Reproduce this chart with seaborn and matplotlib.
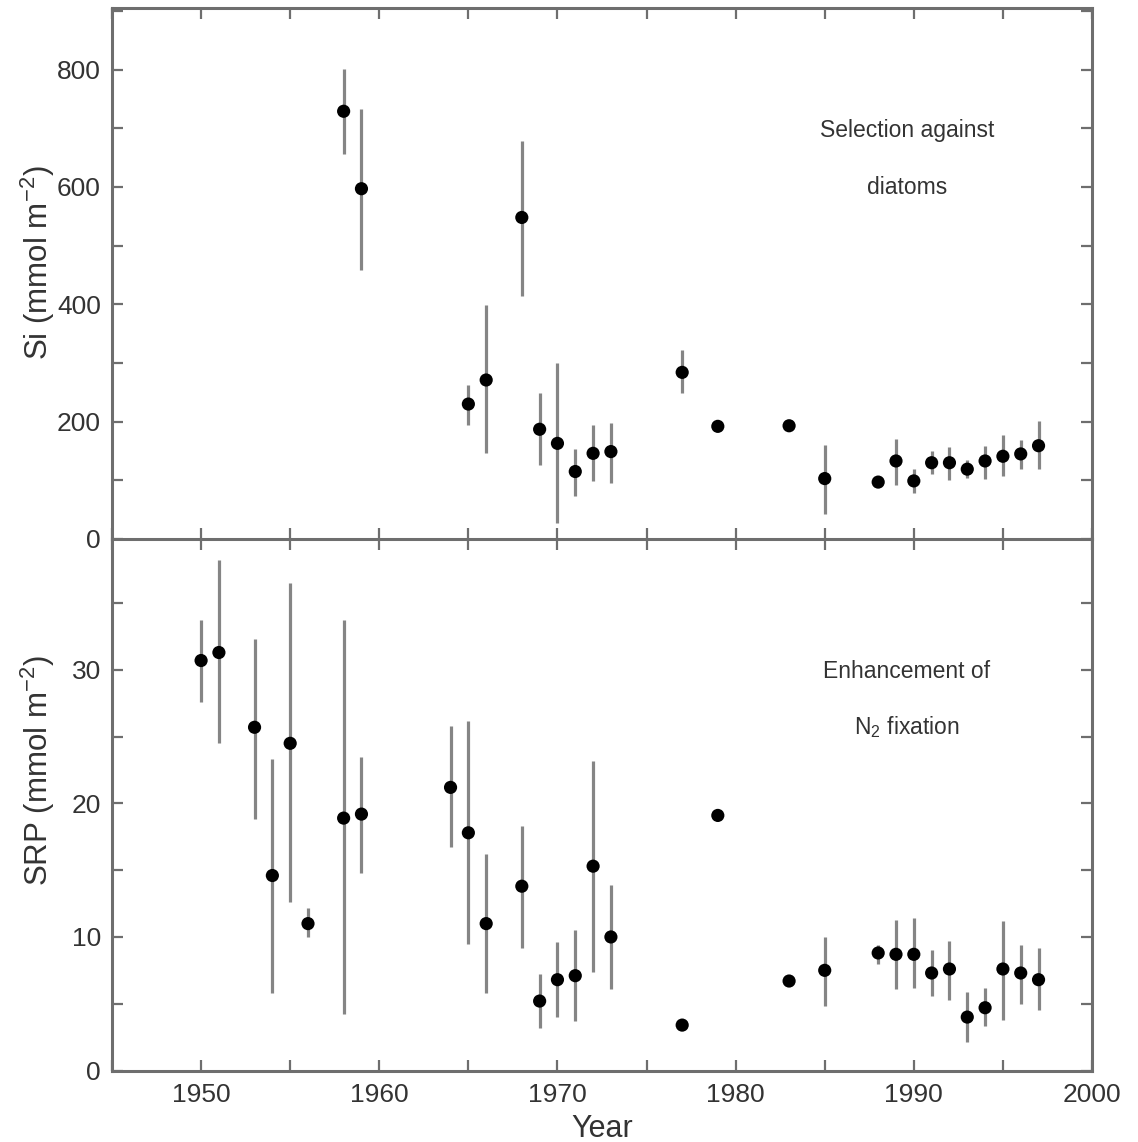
import numpy as np
import pandas as pd
import matplotlib
matplotlib.use("Agg")
import matplotlib.pyplot as plt
from matplotlib.ticker import MultipleLocator
import seaborn as sns

# ---- Data ----
si_years = [1958, 1959, 1965, 1966, 1968, 1969, 1970, 1971, 1972, 1973, 1977, 1979, 1983,
            1985, 1988, 1989, 1990, 1991, 1992, 1993, 1994, 1995, 1996, 1997]
si_values = [729, 597, 230, 271, 548, 187, 163, 115, 146, 149, 284, 192, 193,
             103, 97, 133, 99, 130, 130, 119, 133, 141, 145, 159]
si_low = [657, 459, 195, 146, 415, 126, 27, 74, 98, 96, 248, np.nan, np.nan,
          43, 90, 92, 78, 111, 100, 104, 102, 107, 119, 120]
si_high = [801, 733, 262, 398, 678, 248, 300, 154, 194, 197, 322, np.nan, np.nan,
           160, 104, 171, 120, 150, 157, 134, 158, 177, 169, 201]

srp_years = [1950, 1951, 1953, 1954, 1955, 1956, 1958, 1959, 1964, 1965, 1966, 1968, 1969,
             1970, 1971, 1972, 1973, 1977, 1979, 1983, 1985, 1988, 1989, 1990, 1991, 1992,
             1993, 1994, 1995, 1996, 1997]
srp_values = [30.7, 31.3, 25.7, 14.6, 24.5, 11.0, 18.9, 19.2, 21.2, 17.8, 11.0, 13.8, 5.2,
              6.8, 7.1, 15.3, 10.0, 3.4, 19.1, 6.7, 7.5, 8.8, 8.7, 8.7, 7.3, 7.6,
              4.0, 4.7, 7.6, 7.3, 6.8]
srp_low = [27.6, 24.5, 18.8, 5.8, 12.6, 10.0, 4.2, 14.8, 16.7, 9.5, 5.8, 9.2, 3.2,
           4.0, 3.7, 7.4, 6.1, np.nan, np.nan, np.nan, 4.8, 8.0, 6.1, 6.2, 5.6, 5.3,
           2.1, 3.3, 3.8, 5.0, 4.5]
srp_high = [33.7, 38.2, 32.3, 23.3, 36.5, 12.2, 33.7, 23.5, 25.8, 26.2, 16.2, 18.3, 7.2,
            9.6, 10.5, 23.2, 13.9, np.nan, np.nan, np.nan, 10.0, 9.4, 11.3, 11.4, 9.0, 9.7,
            5.9, 6.2, 11.2, 9.4, 9.2]

x_ticks = [1950, 1960, 1970, 1980, 1990, 2000]
si_ticks = [0, 200, 400, 600, 800]
srp_ticks = [0, 10, 20, 30]

si_df = pd.DataFrame({"Year": si_years, "Si": si_values, "lo": si_low, "hi": si_high})
srp_df = pd.DataFrame({"Year": srp_years, "SRP": srp_values, "lo": srp_low, "hi": srp_high})

# ---- Style ----
sns.set_theme(style="ticks")
plt.rcParams["font.family"] = ["Liberation Sans", "DejaVu Sans"]
plt.rcParams["mathtext.default"] = "regular"

spine_c = "#6e6e6e"
err_c = "#858585"
text_c = "#333333"

fig = plt.figure(figsize=(11.38, 11.42), dpi=100)
left, right = 112 / 1138, 1092 / 1138
ax2 = fig.add_axes([left, 1 - 1070.5 / 1142, right - left, (1070.5 - 539) / 1142])
ax1 = fig.add_axes([left, 1 - 539 / 1142, right - left, (539 - 8) / 1142], sharex=ax2)
ax1.patch.set_alpha(0)
ax2.patch.set_alpha(0)


def draw(ax, df, ycol):
    ax.vlines(df["Year"], df["lo"], df["hi"], color=err_c, linewidth=2.3, zorder=2)
    sns.scatterplot(data=df, x="Year", y=ycol, ax=ax, color="black", s=90,
                    edgecolor="none", zorder=3, legend=False)


draw(ax1, si_df, "Si")
draw(ax2, srp_df, "SRP")

ax2.set_xlim(1945, 2000)
ax1.set_ylim(0, 905)
ax2.set_ylim(0, 39.8)

for ax in (ax1, ax2):
    for s in ax.spines.values():
        s.set_color(spine_c)
        s.set_linewidth(2.2)
    ax.tick_params(which="both", direction="in", top=True, right=True,
                   color=spine_c, width=1.6, labelcolor=text_c, labelsize=19)
    ax.tick_params(which="major", length=8)
    ax.tick_params(which="minor", length=8)

ax2.set_xticks(x_ticks)
ax1.set_yticks(si_ticks)
ax1.yaxis.set_minor_locator(MultipleLocator(100))
ax1.xaxis.set_minor_locator(MultipleLocator(5))
ax1.tick_params(axis="x", which="both", labelbottom=False, labeltop=False)

ax2.set_yticks(srp_ticks)
ax2.yaxis.set_minor_locator(MultipleLocator(5))
ax2.spines["top"].set_visible(False)

ax1.set_ylabel("Si (mmol m$^{-2}$)", fontsize=22.5, color=text_c)
ax2.set_ylabel("SRP (mmol m$^{-2}$)", fontsize=22.5, color=text_c)
ax1.yaxis.set_label_coords(-0.056, 0.52)
ax2.yaxis.set_label_coords(-0.056, 0.565)
ax1.set_xlabel("")
ax2.set_xlabel("Year", fontsize=22, color=text_c, labelpad=5)
ax2.tick_params(axis="x", pad=9)
ax1.tick_params(axis="y", pad=8)
ax2.tick_params(axis="y", pad=8)

ax1.text(1989.6, 696, "Selection against", ha="center", va="center", fontsize=16.5, color=text_c)
ax1.text(1989.6, 599, "diatoms", ha="center", va="center", fontsize=16.5, color=text_c)
ax2.text(1989.6, 29.9, "Enhancement of", ha="center", va="center", fontsize=16.5, color=text_c)
ax2.text(1989.6, 25.7, "N$_2$ fixation", ha="center", va="center", fontsize=16.5, color=text_c)

fig.savefig("out.png", dpi=100, facecolor="white")
